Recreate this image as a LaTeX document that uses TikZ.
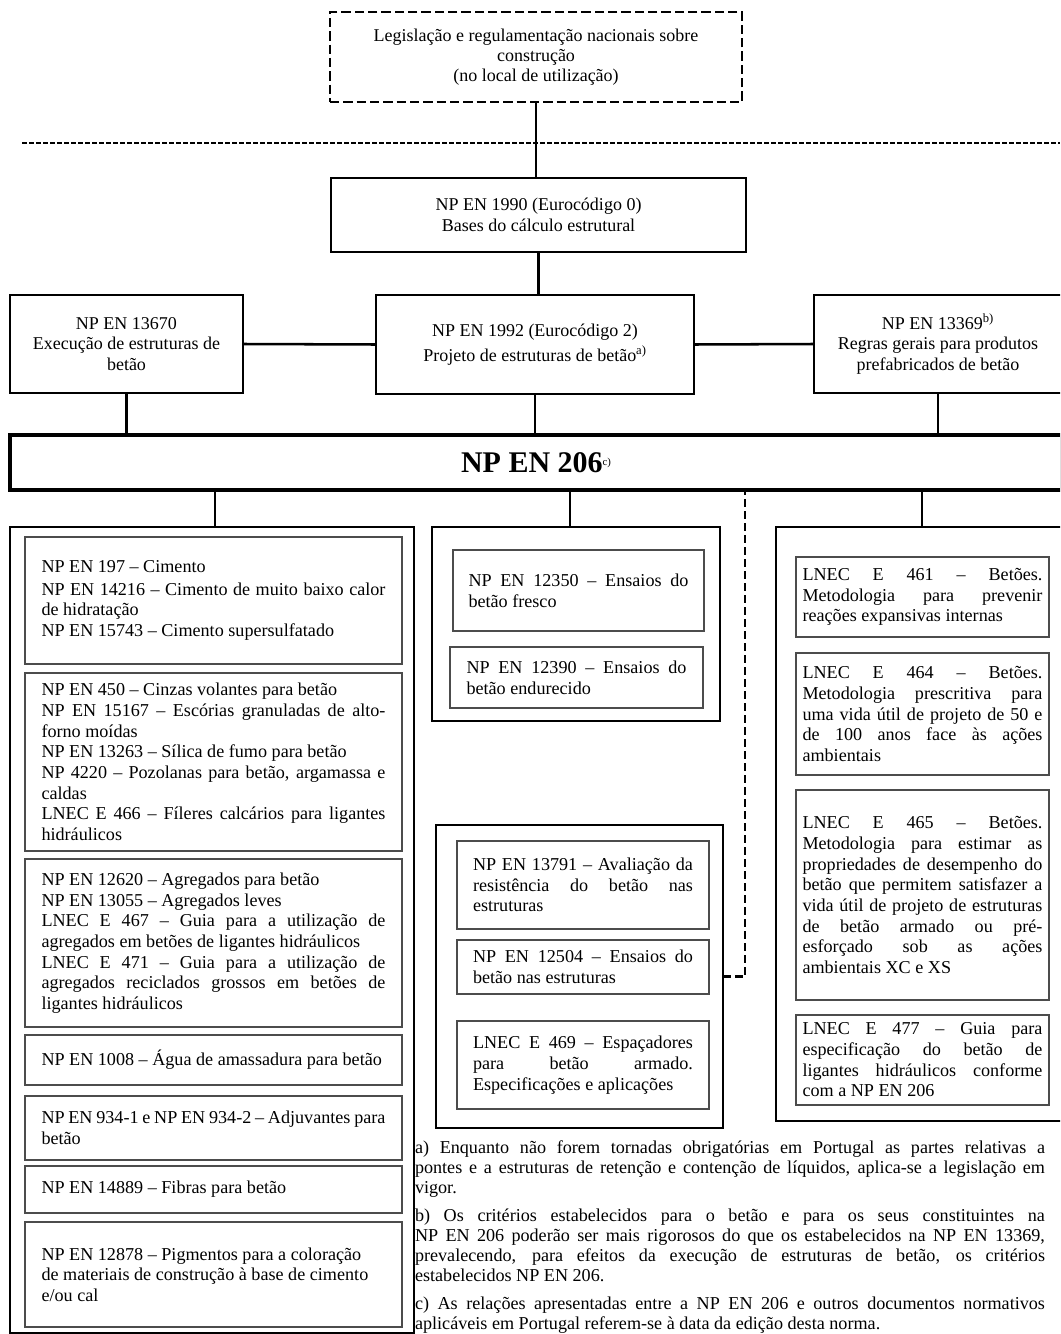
\documentclass[tikz,border=0pt]{standalone}
\usepackage{fontspec}
\setmainfont{Liberation Serif}
\usetikzlibrary{calc}
\newcommand\pxd{0.75pt}
\newcommand\jl[1]{\makebox[\hsize][s]{\spaceskip=0pt\xspaceskip=0pt\relax #1}\\}
\newcommand\bx[7]{\node[#6, minimum width={(#4-#2)*\pxd}, minimum height={(#5-#3)*\pxd}] (#1) at ({(#2+#4)/2},{(#3+#5)/2}) {#7};}
\newcommand\nsp{\spaceskip=0pt\xspaceskip=0pt\relax}
\tikzset{
  basebox/.style={inner sep=0pt, outer sep=0pt},
  legbox/.style={basebox, draw, line width=2.2pt, dash pattern=on 7pt off 3pt, align=center, font=\fontsize{13.5pt}{15pt}\selectfont},
  lvl/.style={basebox, draw, line width=1.9pt, align=center, font=\fontsize{13.5pt}{15.5pt}\selectfont},
  bigbox/.style={basebox, draw, line width=3pt, font=\fontsize{22.5pt}{24pt}\selectfont\bfseries},
  cont/.style={basebox, draw, line width=2.2pt},
  ib/.style={basebox, draw=black!70, line width=1pt, align=left, font=\fontsize{13.6pt}{15.5pt}\selectfont},
  ibL/.style={ib, text width=344*\pxd},
  ibM/.style={ib, text width=220*\pxd},
  ibR/.style={ib, text width=240*\pxd},
  conn/.style={line width=1.9pt},
  dconn/.style={line width=2.2pt, dash pattern=on 6pt off 3pt},
  hdash/.style={line width=1.5pt, dash pattern=on 3.75pt off 1.5pt},
  note/.style={basebox, align=left, text width=630*\pxd, font=\fontsize{13.6pt}{15pt}\selectfont, anchor=north west}
}
\begin{document}
\begin{tikzpicture}[x=0.75pt,y=-0.75pt]
\useasboundingbox (0,0) rectangle (1060,1334);
\clip (0,0) rectangle (1060,1334);

% upper levels
\bx{leg}{330}{12}{742}{102}{legbox}{Legislação e regulamentação nacionais sobre\\construção\\(no local de utilização)}
\bx{en1990}{331}{178}{746}{252}{lvl}{NP EN 1990 (Eurocódigo 0)\\Bases do cálculo estrutural}
\bx{en13670}{10}{295}{243}{393}{lvl}{NP EN 13670\\Execução de estruturas de\\betão}
\bx{en1992}{376}{295}{694}{394}{lvl}{NP EN 1992 (Eurocódigo 2)\\[3pt]Projeto de estruturas de betão\textsuperscript{a)}}
\bx{en13369}{814}{295}{1062}{393}{lvl}{NP EN 13369\textsuperscript{b)}\\Regras gerais para produtos\\prefabricados de betão}
\bx{en206}{10}{435}{1062}{490}{bigbox}{NP EN 206\raisebox{5pt}{\fontsize{8pt}{8pt}\selectfont\mdseries c)}}

\coordinate (hl1) at (22,143);
\coordinate (hl2) at (1060,143);
\draw[hdash] (hl1) -- (hl2);

% containers
\bx{L}{10}{527}{414}{1333}{cont}{}
\bx{M1}{432}{527}{720}{721}{cont}{}
\bx{M2}{436}{825}{723}{1128}{cont}{}
\bx{R}{776}{527}{1068}{1121}{cont}{}

% left column
\bx{l1}{25}{537}{402}{664}{ibL}{\nsp NP EN 197 – Cimento\\[1.5pt]
\jl{NP EN 14216 – Cimento de muito baixo calor}
de hidratação\\
NP EN 15743 – Cimento supersulfatado}
\bx{l2}{25}{673}{402}{851}{ibL}{\nsp NP EN 450 – Cinzas volantes para betão\\
\jl{NP EN 15167 – Escórias granuladas de alto-}
forno moídas\\
NP EN 13263 – Sílica de fumo para betão\\
\jl{NP 4220 – Pozolanas para betão, argamassa e}
caldas\\
\jl{LNEC E 466 – Fíleres calcários para ligantes}
hidráulicos}
\bx{l3}{25}{859}{402}{1027}{ibL}{\nsp NP EN 12620 – Agregados para betão\\
NP EN 13055 – Agregados leves\\
\jl{LNEC E 467 – Guia para a utilização de}
agregados em betões de ligantes hidráulicos\\
\jl{LNEC E 471 – Guia para a utilização de}
\jl{agregados reciclados grossos em betões de}
ligantes hidráulicos}
\bx{l4}{25}{1035}{402}{1085}{ibL}{\nsp NP EN 1008 – Água de amassadura para betão}
\bx{l5}{25}{1096}{402}{1160}{ibL}{\nsp\jl{NP EN 934-1 e NP EN 934-2 – Adjuvantes para}
betão}
\bx{l6}{25}{1166}{402}{1213}{ibL}{\nsp NP EN 14889 – Fibras para betão}
\bx{l7}{25}{1222}{402}{1327}{ibL}{\nsp NP EN 12878 – Pigmentos para a coloração\\
de materiais de construção à base de cimento\\
e/ou cal}

% middle column
\bx{m1a}{453}{550}{704}{631}{ibM}{\nsp\jl{NP EN 12350 – Ensaios do}
betão fresco}
\bx{m1b}{450}{647}{703}{708}{ibM}{\nsp\jl{NP EN 12390 – Ensaios do}
betão endurecido}
\bx{m2a}{457}{841}{709}{929}{ibM}{\nsp\jl{NP EN 13791 – Avaliação da}
\jl{resistência do betão nas}
estruturas}
\bx{m2b}{457}{940}{709}{994}{ibM}{\nsp\jl{NP EN 12504 – Ensaios do}
betão nas estruturas}
\bx{m2c}{457}{1021}{709}{1109}{ibM}{\nsp\jl{LNEC E 469 – Espaçadores}
\jl{para betão armado.}
Especificações e aplicações}

% right column
\bx{r1}{796}{557}{1049}{637}{ibR}{\nsp\jl{LNEC E 461 – Betões.}
\jl{Metodologia para prevenir}
reações expansivas internas}
\bx{r2}{796}{653}{1049}{775}{ibR}{\nsp\jl{LNEC E 464 – Betões.}
\jl{Metodologia prescritiva para}
\jl{uma vida útil de projeto de 50 e}
\jl{de 100 anos face às ações}
ambientais}
\bx{r3}{796}{790}{1049}{1000}{ibR}{\nsp\jl{LNEC E 465 – Betões.}
\jl{Metodologia para estimar as}
\jl{propriedades de desempenho do}
\jl{betão que permitem satisfazer a}
\jl{vida útil de projeto de estruturas}
\jl{de betão armado ou pré-}
\jl{esforçado sob as ações}
ambientais XC e XS}
\bx{r4}{796}{1015}{1049}{1105}{ibR}{\nsp\jl{LNEC E 477 – Guia para}
\jl{especificação do betão de}
\jl{ligantes hidráulicos conforme}
com a NP EN 206}

% footnotes
\node[note] (fn) at (415,1141) {\nsp\jl{a) Enquanto não forem tornadas obrigatórias em Portugal as partes relativas a}
\jl{pontes e a estruturas de retenção e contenção de líquidos, aplica-se a legislação em}
vigor.\\[6pt]
\jl{b) Os critérios estabelecidos para o betão e para os seus constituintes na}
\jl{NP EN 206 poderão ser mais rigorosos do que os estabelecidos na NP EN 13369,}
\jl{prevalecendo, para efeitos da execução de estruturas de betão, os critérios}
estabelecidos NP EN 206.\\[6pt]
\jl{c) As relações apresentadas entre a NP EN 206 e outros documentos normativos}
aplicáveis em Portugal referem-se à data da edição desta norma.};

% connectors
\draw[conn] (leg.south) -- (leg.south |- en1990.north);
\draw[conn] (en1990.south) -- (en1990.south |- en1992.north);
\draw[conn] (en13670.east) -- (en1992.west);
\draw[conn] (en1992.east) -- (en13369.west);
\draw[conn] (en13670.south) -- (en13670.south |- en206.north);
\draw[conn] (en1992.south) -- (en1992.south |- en206.north);
\draw[conn] (en13369.south) -- (en13369.south |- en206.north);
\coordinate (lx) at (215,490);
\coordinate (mx) at (570,490);
\draw[conn] (lx) -- (lx |- L.north);
\draw[conn] (mx) -- (mx |- M1.north);
\draw[conn] (R.north |- en206.south) -- (R.north);
\coordinate (dtop) at (745,490);
\draw[dconn] (M2.east) -| (dtop);
\end{tikzpicture}
\end{document}
